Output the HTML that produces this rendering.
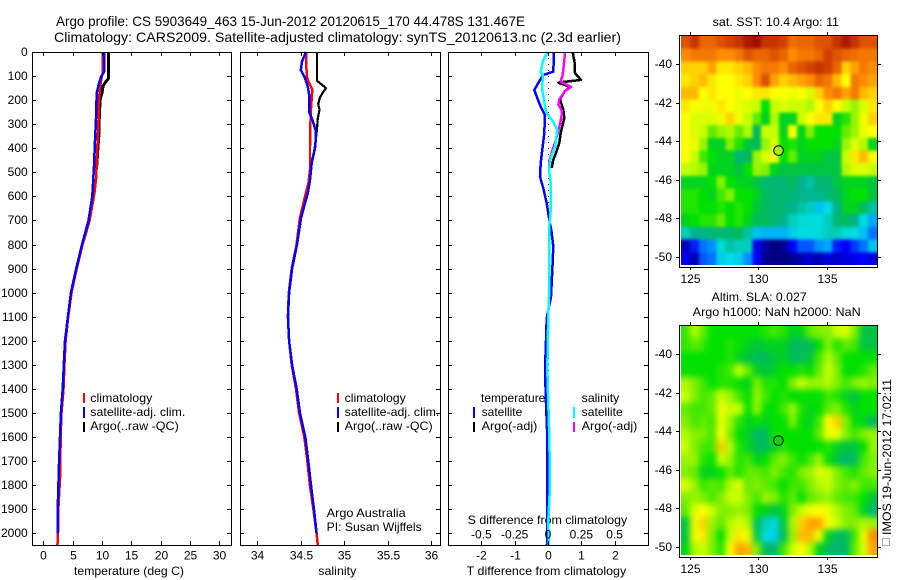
<!DOCTYPE html>
<html lang="en">
<head>
<meta charset="utf-8">
<title>Argo profile 5903649_463</title>
<style>
html,body{margin:0;padding:0;background:#fff;width:900px;height:580px;overflow:hidden}
svg{display:block;font-family:"Liberation Sans",sans-serif;font-size:12px;fill:#000}
text{fill:#000;stroke:none}
.t{font-size:14px}
</style>
</head>
<body>
<svg id="fig" xmlns="http://www.w3.org/2000/svg" width="900" height="580" viewBox="0 0 900 580">
<defs>
<filter id="blurSst" filterUnits="userSpaceOnUse" x="640" y="0" width="260" height="300" color-interpolation-filters="sRGB"><feGaussianBlur stdDeviation="1.6"/></filter>
<filter id="blurSla" filterUnits="userSpaceOnUse" x="640" y="290" width="260" height="290" color-interpolation-filters="sRGB"><feGaussianBlur stdDeviation="3.2"/></filter>
<clipPath id="clipSst"><rect x="681" y="36" width="196" height="229"/></clipPath>
<clipPath id="clipSla"><rect x="681" y="326" width="196" height="229"/></clipPath>
</defs>
<text class="t" x="56" y="26" textLength="469" lengthAdjust="spacingAndGlyphs">Argo profile: CS 5903649_463 15-Jun-2012 20120615_170 44.478S 131.467E</text>
<text class="t" x="54" y="42" textLength="567" lengthAdjust="spacingAndGlyphs">Climatology: CARS2009. Satellite-adjusted climatology: synTS_20120613.nc (2.3d earlier)</text>
<text x="74" y="575" textLength="110" lengthAdjust="spacingAndGlyphs">temperature (deg C)</text>
<text x="318.3" y="575" textLength="38" lengthAdjust="spacingAndGlyphs">salinity</text>
<text x="466.7" y="575" textLength="159.5" lengthAdjust="spacingAndGlyphs">T difference from climatology</text>
<text x="467.7" y="524" textLength="159.5" lengthAdjust="spacingAndGlyphs">S difference from climatology</text>

<g>
<rect x="83" y="393" width="2" height="10" fill="#f00"/>
<rect x="83" y="407" width="2" height="11" fill="#00f"/>
<rect x="83" y="422" width="2" height="10" fill="#000"/>
<text x="90.3" y="402" textLength="62" lengthAdjust="spacingAndGlyphs">climatology</text>
<text x="90.3" y="416" textLength="95" lengthAdjust="spacingAndGlyphs">satellite-adj. clim.</text>
<text x="90.3" y="430" textLength="88.5" lengthAdjust="spacingAndGlyphs">Argo(..raw -QC)</text>
</g>
<g>
<rect x="337" y="393" width="2" height="10" fill="#f00"/>
<rect x="337" y="407" width="2" height="11" fill="#00f"/>
<rect x="337" y="422" width="2" height="10" fill="#000"/>
<text x="344.7" y="402" textLength="61" lengthAdjust="spacingAndGlyphs">climatology</text>
<text x="344.7" y="416" textLength="94.6" lengthAdjust="spacingAndGlyphs">satellite-adj. clim.</text>
<text x="344.7" y="430" textLength="88" lengthAdjust="spacingAndGlyphs">Argo(..raw -QC)</text>
<text x="326.7" y="517" textLength="79" lengthAdjust="spacingAndGlyphs">Argo Australia</text>
<text x="326.7" y="531" textLength="95" lengthAdjust="spacingAndGlyphs">PI: Susan Wijffels</text>
</g>
<g>
<text x="481" y="402" textLength="64.3" lengthAdjust="spacingAndGlyphs">temperature</text>
<text x="581.7" y="402" textLength="37.6" lengthAdjust="spacingAndGlyphs">salinity</text>
<rect x="473" y="407" width="2" height="11" fill="#00f"/>
<rect x="473" y="422" width="2" height="10" fill="#000"/>
<rect x="573" y="407" width="2" height="11" fill="#0ff"/>
<rect x="573" y="422" width="2" height="10" fill="#f0f"/>
<text x="481.7" y="416" textLength="40.6" lengthAdjust="spacingAndGlyphs">satellite</text>
<text x="481.7" y="430" textLength="55.6" lengthAdjust="spacingAndGlyphs">Argo(-adj)</text>
<text x="581.7" y="416" textLength="41" lengthAdjust="spacingAndGlyphs">satellite</text>
<text x="581.7" y="430" textLength="55.6" lengthAdjust="spacingAndGlyphs">Argo(-adj)</text>
</g>
<text x="712.7" y="26" textLength="126.3" lengthAdjust="spacingAndGlyphs">sat. SST: 10.4  Argo: 11</text>
<text x="711.7" y="301" textLength="95" lengthAdjust="spacingAndGlyphs">Altim. SLA: 0.027</text>
<text x="692.7" y="316" textLength="168" lengthAdjust="spacingAndGlyphs">Argo h1000: NaN h2000: NaN</text>
<rect x="882.5" y="538.5" width="7" height="7" fill="none" stroke="#555" stroke-width="1" stroke-dasharray="1 1"/>
<text transform="translate(891,535) rotate(-90)" x="0" y="0" textLength="156" lengthAdjust="spacingAndGlyphs">IMOS 19-Jun-2012 17:02:11</text>
</svg>
<script>
// ---------- profile data ----------
var depthTicks = [0,100,200,300,400,500,600,700,800,900,1000,1100,1200,1300,1400,1500,1600,1700,1800,1900,2000];
var tempTicks = [0,5,10,15,20,25,30];
var salTicks = [34,34.5,35,35.5,36];
var salTickLabels = ['34','34.5','35','35.5','36'];
var tDiffTicks = [-2,-1,0,1,2];
var sDiffTicks = [-0.5,-0.25,0,0.25,0.5];
var sDiffTickLabels = ['-0.5','-0.25','0','0.25','0.5'];

var climDepth = [0,90,110,140,200,300,400,525,590,700,800,900,1000,1100,1200,1300,1400,1500,1600,1750,1900,2000,2050];
var tempClim = [10.1,10.1,9.9,9.7,9.5,9.4,9.2,9.0,8.7,7.9,6.7,5.7,4.8,4.25,3.8,3.6,3.45,3.1,2.95,2.9,2.55,2.5,2.4];
var tempSatDepth = [0,80,100,130,170,270,378,475,600,700,800,900,1000,1100,1200,1300,1400,1500,1600,1700,1800,1900,2000];
var tempSat = [10.4,10.4,9.9,9.5,9.1,9.0,8.8,8.65,8.35,7.7,6.6,5.6,4.7,4.2,3.7,3.5,3.3,3.0,2.85,2.7,2.57,2.45,2.45];
var argoDepth = [0,110,125,140,170,200,250,300,340,400,475,490];
var tempArgo = [11.1,11.1,10.6,10.2,10.0,9.66,9.6,9.5,9.5,9.3,9.1,9.0];

var salClimDepth = [0,100,123,155,252,393,490,545,600,690,800,900,1000,1100,1200,1300,1400,1500,1600,1700,1800,1900,2000,2050];
var salClim = [34.56,34.568,34.587,34.632,34.614,34.606,34.606,34.587,34.548,34.49,34.45,34.395,34.362,34.352,34.365,34.395,34.445,34.48,34.54,34.576,34.605,34.645,34.682,34.695];
var salSatDepth = [0,40,75,108,145,186,248,274,303,331,393,462,532,586,628,690,800,900,1000,1100,1200,1300,1400,1500,1600,1700,1800,1900,2000];
var salSat = [34.56,34.514,34.50,34.548,34.58,34.60,34.594,34.625,34.652,34.675,34.667,34.625,34.606,34.58,34.548,34.502,34.456,34.40,34.365,34.353,34.365,34.40,34.453,34.491,34.552,34.586,34.617,34.652,34.682];
var salArgoDepth = [0,120,135,150,170,190,215,240,275,320,370,420,460,490];
var salArgo = [34.686,34.686,34.74,34.79,34.75,34.72,34.70,34.715,34.695,34.686,34.67,34.652,34.617,34.605];

var tDiffSatDepth = [0,82,88,95,116,158,191,227,262,337,461,518,566,628,698,740,809,906,1017,1072,1107,1200,1321,1458,1598,1800,2050];
var tDiffSat = [0.18,0.16,0.02,-0.14,-0.24,-0.41,-0.32,-0.22,-0.09,-0.11,-0.22,-0.24,-0.14,-0.04,0.04,0.10,0.16,0.13,0.09,0.01,-0.04,-0.06,-0.09,-0.06,-0.02,-0.02,-0.03];
var tDiffArgoDepth = [0,46,88,116,123,127,145,162,197,239,274,336,378,419,447,482];
var tDiffArgo = [0.74,0.80,0.81,0.99,0.56,0.31,0.66,0.51,0.36,0.46,0.49,0.38,0.34,0.24,0.16,0.11];
var sDiffSatDepth = [0,33,82,95,158,227,255,290,324,393,441,489,544,657,726,850,990,1085,1321,1458,1598,1800,1950,2050];
var sDiffSat = [-0.0025,-0.035,-0.055,-0.04,-0.043,-0.0225,-0.01,0.04,0.07,0.053,0.02,0.0075,0.02,0.02,0.01,0.01,0.01,0.0025,-0.005,0.0025,0.01,0.015,0.0025,0.007];
var sDiffArgoDepth = [0,46,95,123,145,162,197,218,245,274,322,364,405,454,482];
var sDiffArgo = [0.128,0.12,0.11,0.095,0.173,0.128,0.085,0.078,0.105,0.10,0.08,0.06,0.035,0.01,0.01];

// ---------- map data: colour level 0 (deep blue) .. 100 (dark red) ----------
var mapLonTicks = [125,130,135];
var mapLatTicks = [-40,-42,-44,-46,-48,-50];
var argoLon = 131.467;
var argoLat = -44.478;
var sstLevels = [
[88,92,86,86,88,90,92,96,98,92,92,90,85,86,86,88,88,92,96,92,88,88],
[82,84,84,84,82,82,84,88,86,86,88,86,82,84,84,86,90,88,86,85,84,84],
[76,76,76,80,74,74,76,78,82,84,84,82,86,88,90,92,90,86,76,80,84,82],
[74,76,78,74,72,72,74,76,82,88,80,76,78,80,82,86,84,78,72,84,82,80],
[78,78,72,74,72,72,70,72,74,74,72,72,70,72,68,76,82,84,80,84,78,76],
[74,72,70,70,74,72,70,68,66,52,66,68,66,66,64,72,76,72,66,62,68,74],
[72,68,68,68,70,76,70,66,58,50,64,50,50,66,72,74,74,50,54,62,70,76],
[72,68,66,58,62,64,58,64,46,66,66,50,72,50,60,52,52,52,58,62,70,72],
[72,70,62,50,50,60,54,48,46,62,68,52,54,50,52,52,52,50,62,68,64,50],
[72,66,56,52,50,50,44,46,62,68,70,52,58,50,50,50,48,48,66,74,78,70],
[66,64,62,50,50,50,48,52,62,60,50,48,48,48,48,48,48,48,64,68,68,66],
[50,50,50,52,60,52,50,50,48,44,44,44,46,42,40,44,44,48,50,50,50,48],
[54,54,52,50,56,60,52,52,50,46,44,44,44,42,42,42,44,46,50,52,52,48],
[54,54,52,52,54,52,54,52,48,46,44,44,42,40,38,30,34,42,50,50,46,40],
[50,52,54,54,58,52,54,50,46,46,44,42,38,36,36,34,38,44,46,42,34,26],
[38,42,42,44,44,44,46,40,30,28,28,28,32,34,34,36,38,38,36,34,30,22],
[6,16,22,24,36,40,38,38,12,4,0,2,14,20,20,24,26,16,14,18,22,30],
[12,6,20,22,32,34,32,24,14,2,0,0,2,6,8,6,10,8,10,12,14,10]
];
var slaLevels = [
[55,64,58,52,52,52,52,52,52,54,56,54,50,50,58,60,60,66,68,60,48,48],
[55,58,55,52,52,54,52,50,48,50,50,50,46,46,46,52,60,54,58,56,48,48],
[52,52,52,52,52,54,50,48,46,46,48,50,46,46,48,56,64,58,52,52,52,52],
[52,52,52,52,54,56,66,58,50,48,50,52,52,54,52,58,66,60,52,52,54,58],
[64,60,56,52,54,54,52,50,60,54,54,52,60,66,62,62,64,60,56,60,62,60],
[66,60,56,58,66,62,56,52,62,56,52,54,52,52,52,52,56,54,50,48,52,52],
[58,56,56,58,70,66,66,52,62,52,52,56,62,54,50,52,58,60,54,50,52,52],
[60,56,58,56,70,62,54,50,52,50,52,52,60,52,50,56,72,76,60,52,50,46],
[64,60,60,56,72,60,52,50,44,46,52,52,52,52,52,58,70,70,60,56,60,62],
[66,60,56,56,76,64,54,50,46,46,50,54,52,52,52,52,54,50,48,48,52,62],
[62,62,54,52,66,62,54,56,50,52,58,60,56,52,56,62,52,48,44,46,56,60],
[60,58,50,50,52,58,54,58,58,56,60,56,54,60,62,68,66,60,56,54,58,60],
[68,62,55,58,56,64,68,58,60,58,56,52,56,56,60,64,66,60,58,60,56,56],
[60,62,60,56,60,66,66,60,56,62,60,54,58,52,58,60,62,58,56,56,52,48],
[58,68,72,66,60,60,62,60,52,50,48,50,60,66,70,72,70,64,60,58,50,44],
[48,70,76,62,58,64,68,64,46,38,34,48,64,76,80,80,72,66,60,60,64,62],
[48,70,74,60,52,66,74,70,48,34,32,46,62,78,78,70,50,46,46,56,70,82],
[50,64,66,60,54,72,80,78,60,46,44,56,66,72,64,50,46,44,46,58,68,80]
];

// ---------- axis functions ----------
var NS = 'http://www.w3.org/2000/svg';
var fig = document.getElementById('fig');
function yDepth(d){ return 52 + d * 0.2407; }
function xTemp(v){ return 43.3 + v * 5.867; }
function xSal(v){ return 257.3 + (v - 34) * 87; }
function xTDiff(v){ return 548 + v * 33.33; }
function xSDiff(v){ return 548 + v * 133.3; }
function xLon(v){ return 689.7 + (v - 125) * 13.73; }
function yLat1(v){ return 64.3 + (-40 - v) * 19.27; }
function yLat2(v){ return 354.3 + (-40 - v) * 19.27; }

function make(tag, parent){
  var e = document.createElementNS(NS, tag);
  parent.appendChild(e);
  return e;
}
function drawLine(parent, x1, y1, x2, y2){
  var l = make('line', parent);
  l.setAttribute('x1', x1);
  l.setAttribute('y1', y1);
  l.setAttribute('x2', x2);
  l.setAttribute('y2', y2);
  l.setAttribute('stroke', '#000');
  l.setAttribute('stroke-width', 1);
  l.setAttribute('shape-rendering', 'crispEdges');
  
  
  return l;
}
function drawLabel(parent, x, y, anchor, str){
  var t = make('text', parent);
  t.setAttribute('x', x);
  t.setAttribute('y', y);
  t.setAttribute('text-anchor', anchor);
  
  
  t.textContent = str;
  return t;
}
function drawFrame(parent, x, y, w, h){
  var r = make('rect', parent);
  r.setAttribute('x', x);
  r.setAttribute('y', y);
  r.setAttribute('width', w);
  r.setAttribute('height', h);
  r.setAttribute('fill', 'none');
  r.setAttribute('stroke', '#000');
  r.setAttribute('stroke-width', 1);
  r.setAttribute('shape-rendering', 'crispEdges');
  
  
}
function drawSeries(parent, name, color, width, depths, values, xFn){
  var p = make('polyline', parent);
  var pts = [];
  for (var i = 0; i < values.length; i++) {
    pts.push(xFn(values[i]).toFixed(1) + ',' + yDepth(depths[i]).toFixed(1));
  }
  p.setAttribute('points', pts.join(' '));
  p.setAttribute('fill', 'none');
  p.setAttribute('stroke', color);
  p.setAttribute('stroke-width', width);
  p.setAttribute('stroke-linejoin', 'round');
  p.setAttribute('shape-rendering', 'crispEdges');
  
  
}
function profilePanel(name){
  var g = make('g', fig);
  
  
  return g;
}
function panelAxes(g, left, right, xFn, ticks, labels, showY){
  var i;
  drawFrame(g, left + 0.5, 52.5, right - left, 493);
  for (i = 0; i < depthTicks.length; i++) {
    var y = Math.round(yDepth(depthTicks[i])) + 0.5;
    drawLine(g, left, y, left + 4, y);
    drawLine(g, right - 4, y, right, y);
    if (showY) { drawLabel(g, 27.7, y + 3.5, 'end', String(depthTicks[i])); }
  }
  for (i = 0; i < ticks.length; i++) {
    var x = Math.round(xFn(ticks[i])) + 0.5;
    drawLine(g, x, 52, x, 56);
    drawLine(g, x, 541, x, 545);
    drawLabel(g, x, 559.5, 'middle', labels[i]);
  }
}

// ---------- temperature panel ----------
var g1 = profilePanel('temperature-panel');
drawSeries(g1, 'temperature-argo-line', '#000', 3, argoDepth, tempArgo, xTemp);
drawSeries(g1, 'temperature-climatology-line', '#f00', 2.5, climDepth, tempClim, xTemp);
drawSeries(g1, 'temperature-satellite-line', '#00f', 2.5, tempSatDepth, tempSat, xTemp);
panelAxes(g1, 32, 231, xTemp, tempTicks, tempTicks.map(String), true);

// ---------- salinity panel ----------
var g2 = profilePanel('salinity-panel');
drawSeries(g2, 'salinity-argo-line', '#000', 2.2, salArgoDepth, salArgo, xSal);
drawSeries(g2, 'salinity-climatology-line', '#f00', 2.5, salClimDepth, salClim, xSal);
drawSeries(g2, 'salinity-satellite-line', '#00f', 2.5, salSatDepth, salSat, xSal);
panelAxes(g2, 240, 440, xSal, salTicks, salTickLabels, false);

// ---------- difference panel ----------
var g3 = profilePanel('difference-panel');
var zeroLine = drawLine(g3, xTDiff(0) + 0.5, yDepth(0), xTDiff(0) + 0.5, 545);
zeroLine.setAttribute('stroke-dasharray', '1 5');

drawSeries(g3, 't-diff-satellite-line', '#00f', 2.5, tDiffSatDepth, tDiffSat, xTDiff);
drawSeries(g3, 't-diff-argo-line', '#000', 2.5, tDiffArgoDepth, tDiffArgo, xTDiff);
drawSeries(g3, 's-diff-argo-line', '#f0f', 2.5, sDiffArgoDepth, sDiffArgo, xSDiff);
drawSeries(g3, 's-diff-satellite-line', '#0ff', 2.5, sDiffSatDepth, sDiffSat, xSDiff);
panelAxes(g3, 448, 648, xTDiff, tDiffTicks, tDiffTicks.map(String), false);
for (var s = 0; s < sDiffTicks.length; s++) {
  drawLabel(g3, xSDiff(sDiffTicks[s]), 538.5, 'middle', sDiffTickLabels[s]);
}

// ---------- heatmaps ----------
var stops = [[0,0,0,128],[10,0,0,220],[14,0,0,255],[25,0,160,255],[35,0,225,225],[42,0,180,140],[47,0,190,80],[52,0,225,0],[60,130,240,0],[66,200,255,0],[72,255,255,0],[82,255,140,0],[90,210,64,0],[100,150,0,0]];
function levelColor(v){
  for (var i = 1; i < stops.length; i++) {
    if (v <= stops[i][0]) {
      var a = stops[i-1], b = stops[i], f = (v - a[0]) / (b[0] - a[0]);
      return 'rgb(' + Math.round(a[1] + f*(b[1]-a[1])) + ',' + Math.round(a[2] + f*(b[2]-a[2])) + ',' + Math.round(a[3] + f*(b[3]-a[3])) + ')';
    }
  }
  return 'rgb(150,0,0)';
}
function drawMap(name, grid, top, bottom, latFn, dataTop, dataBottom, markerFill, clipId, filterId){
  var g = make('g', fig);
  
  
  var clipGroup = make('g', g);
  clipGroup.setAttribute('clip-path', 'url(#' + clipId + ')');
  
  
  var cells = make('g', clipGroup);
  cells.setAttribute('filter', 'url(#' + filterId + ')');
  
  
  var left = 681, right = 877;
  var rows = grid.length, cols = grid[0].length;
  var cw = (right - left) / cols, ch = (dataBottom - dataTop) / rows;
  var pad = 14;
  for (var r = 0; r < rows; r++) {
    for (var c = 0; c < cols; c++) {
      var x0 = left + c * cw, y0 = dataTop + r * ch, w0 = cw + 0.5, h0 = ch + 0.5;
      if (c === 0) { x0 -= pad; w0 += pad; }
      if (c === cols - 1) { w0 += pad; }
      if (r === 0) { y0 -= pad; h0 += pad; }
      if (r === rows - 1) { h0 += pad; }
      var cell = make('rect', cells);
      cell.setAttribute('x', x0.toFixed(2));
      cell.setAttribute('y', y0.toFixed(2));
      cell.setAttribute('width', w0.toFixed(2));
      cell.setAttribute('height', h0.toFixed(2));
      cell.setAttribute('fill', levelColor(grid[r][c]));
      cell.setAttribute('shape-rendering', 'crispEdges');
      
      
    }
  }
  drawFrame(g, 679.5, top + 0.5, 198, bottom - top);
  var i;
  for (i = 0; i < mapLonTicks.length; i++) {
    var x = Math.round(xLon(mapLonTicks[i])) + 0.5;
    drawLine(g, x, top - 3, x, top);
    drawLine(g, x, bottom, x, bottom + 3);
    drawLabel(g, x, bottom + 16, 'middle', String(mapLonTicks[i]));
  }
  for (i = 0; i < mapLatTicks.length; i++) {
    var y = Math.round(latFn(mapLatTicks[i])) + 0.5;
    drawLine(g, 676, y, 679, y);
    drawLine(g, 878, y, 881, y);
    drawLabel(g, 672, y + 3.5, 'end', String(mapLatTicks[i]));
  }
  var m = make('circle', g);
  m.setAttribute('cx', xLon(argoLon).toFixed(1));
  m.setAttribute('cy', latFn(argoLat).toFixed(1));
  m.setAttribute('r', 4.8);
  m.setAttribute('fill', markerFill);
  m.setAttribute('stroke', '#000');
  m.setAttribute('stroke-width', 1);
  
  
}
drawMap('sst-map', sstLevels, 35, 267, yLat1, 36, 265, '#a8f000', 'clipSst', 'blurSst');
drawMap('sla-map', slaLevels, 325, 557, yLat2, 326, 555, '#00d800', 'clipSla', 'blurSla');
</script>
</body>
</html>
